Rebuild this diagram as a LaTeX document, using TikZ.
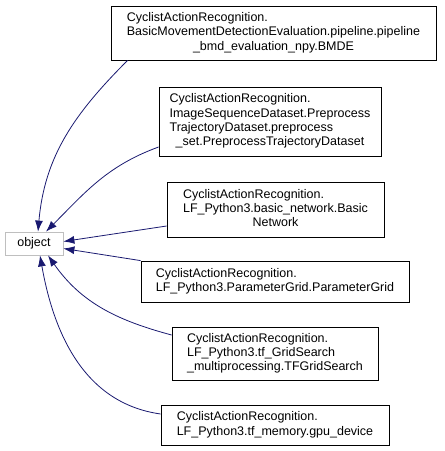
\documentclass[tikz,border=0pt]{standalone}
\usepackage{fontspec}
\setmainfont{Liberation Sans}
\usetikzlibrary{arrows.meta}

\definecolor{edgeblue}{HTML}{191970}
\definecolor{objgray}{HTML}{BFBFBF}

\newcommand{\cls}[1]{\begin{tabular}{@{}l@{}}#1\end{tabular}}
\newcommand{\lastc}[1]{\multicolumn{1}{@{}c@{}}{#1}}

\begin{document}
\begin{tikzpicture}[x=1pt, y=-1pt,
    every node/.style={font=\fontsize{12.5}{14.3}\selectfont},
    classbox/.style={rectangle, draw, line width=0.8pt, inner sep=0pt},
    edge/.style={draw=edgeblue, line width=0.8pt, -{Latex[length=11pt, width=8pt]}}]
    \useasboundingbox (0,0) rectangle (445,451);

    \node (object) [rectangle, draw=objgray, line width=0.8pt, minimum width=58pt, minimum height=23pt, inner sep=0pt] at (34,243.5) {object};

    \node (bmde) [classbox, minimum width=325pt, minimum height=54pt] at (273.5,33) {\cls{CyclistActionRecognition.\\ BasicMovementDetectionEvaluation.pipeline.pipeline\\ \lastc{\_bmd\_evaluation\_npy.BMDE}}};
    \node (preprocess) [classbox, minimum width=222pt, minimum height=69pt] at (270,121.5) {\cls{CyclistActionRecognition.\\ ImageSequenceDataset.Preprocess\\ TrajectoryDataset.preprocess\\ \lastc{\_set.PreprocessTrajectoryDataset}}};
    \node (basicnet) [classbox, minimum width=217pt, minimum height=55pt] at (275.5,209.5) {\cls{CyclistActionRecognition.\\ LF\_Python3.basic\_network.Basic\\ \lastc{Network}}};
    \node (paramgrid) [classbox, minimum width=268pt, minimum height=41pt] at (275,281.5) {\cls{CyclistActionRecognition.\\ LF\_Python3.ParameterGrid.ParameterGrid}};
    \node (gridsearch) [classbox, minimum width=206pt, minimum height=53pt] at (275,353.5) {\cls{CyclistActionRecognition.\\ LF\_Python3.tf\_GridSearch\\ \lastc{\_multiprocessing.TFGridSearch}}};
    \node (gpudevice) [classbox, minimum width=228pt, minimum height=40pt] at (275,425) {\cls{CyclistActionRecognition.\\ LF\_Python3.tf\_memory.gpu\_device}};

    % inheritance edges
    \draw[edge] ([xshift=17pt]bmde.south west) to[out=225, in=85] ([xshift=4pt]object.north);
    \draw[edge] ([yshift=-25.5pt]preprocess.west) to[out=200, in=45] ([xshift=12pt]object.north);
    \draw[edge] ([yshift=-16.5pt]basicnet.west) -- ([yshift=2pt]object.east);
    \draw[edge] (paramgrid.north west) -- ([yshift=-5pt]object.east);
    \draw[edge] ([yshift=18.5pt]gridsearch.west) to[out=165, in=-55] ([xshift=14pt]object.south);
    \draw[edge] ([yshift=11pt]gpudevice.west) to[out=172, in=-80] ([xshift=6pt]object.south);
\end{tikzpicture}
\end{document}
